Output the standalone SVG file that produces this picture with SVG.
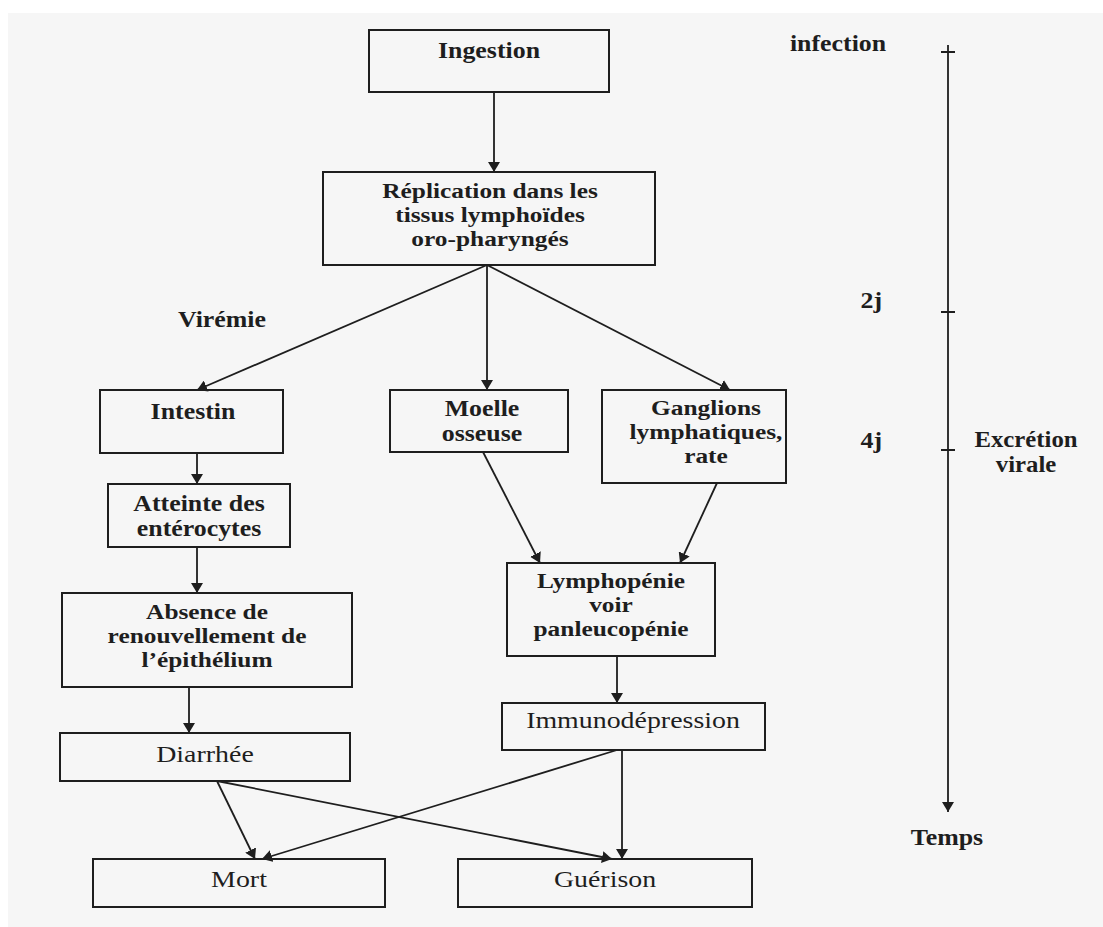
<svg xmlns="http://www.w3.org/2000/svg" width="1103" height="927" viewBox="0 0 1103 927">
<defs>
<style>
.box{fill:none;stroke:#1e1e1e;stroke-width:2}
.ln{fill:none;stroke:#1e1e1e;stroke-width:1.8}
.arr{marker-end:url(#ah)}
text{font-family:"Liberation Serif","Times New Roman",serif;font-size:22.5px;fill:#1e1e1e;text-anchor:middle}
.b{font-weight:bold}
.r{font-weight:normal}
.s{font-size:21.5px}
</style>
<marker id="ah" viewBox="0 0 10 12" refX="10" refY="6" markerWidth="10" markerHeight="12" markerUnits="userSpaceOnUse" orient="auto">
<path d="M0,0 L10,6 L0,12 z" fill="#1e1e1e"/>
</marker>
</defs>
<rect x="0" y="0" width="1103" height="927" fill="#ffffff"/>
<rect x="8" y="13" width="1095" height="914" fill="#f6f6f6"/>

<g id="connectors">
<path class="ln arr" d="M494,92 V172"/>
<path class="ln arr" d="M487,265 L197,390"/>
<path class="ln arr" d="M487,265 V390"/>
<path class="ln arr" d="M487,265 L730,390"/>
<path class="ln arr" d="M197,453 V484"/>
<path class="ln arr" d="M197,547 V593"/>
<path class="ln arr" d="M189,687 V733"/>
<path class="ln arr" d="M483,452 L540,563"/>
<path class="ln arr" d="M717,483 L680,563"/>
<path class="ln arr" d="M617,656 V703"/>
<path class="ln arr" d="M622,750 V859"/>
<path class="ln arr" d="M617,750 L262,859"/>
<path class="ln arr" d="M217,781 L255,859"/>
<path class="ln arr" d="M217,781 L612,859"/>
</g>

<g id="timeline">
<path class="ln arr" d="M948,45 V812"/>
<path class="ln" d="M941,52 H955 M941,312 H955 M941,450 H955"/>
<text class="b" transform="translate(838,51) scale(1.15,1)">infection</text>
<text class="b" transform="translate(882,308) scale(1.15,1)" style="text-anchor:end">2j</text>
<text class="b" transform="translate(882,448) scale(1.15,1)" style="text-anchor:end">4j</text>
<text class="b" transform="translate(1026,447) scale(1.1,1)"><tspan x="0" y="0">Excrétion</tspan><tspan x="0" y="25">virale</tspan></text>
<text class="b" transform="translate(947,845) scale(1.15,1)">Temps</text>
</g>

<g id="ingestion">
<rect class="box" x="369" y="30" width="240" height="62"/>
<text class="b" transform="translate(489,58) scale(1.15,1)">Ingestion</text>
</g>

<g id="replication">
<rect class="box" x="323" y="172" width="332" height="93"/>
<text class="b s" transform="translate(490,198) scale(1.18,1)"><tspan x="0" y="0">Réplication dans les</tspan><tspan x="0" y="24">tissus lymphoïdes</tspan><tspan x="0" y="48">oro-pharyngés</tspan></text>
</g>

<g id="viremie">
<text class="b" transform="translate(222,327) scale(1.15,1)">Virémie</text>
</g>

<g id="intestin">
<rect class="box" x="100" y="390" width="183" height="63"/>
<text class="b" transform="translate(193,419) scale(1.15,1)">Intestin</text>
</g>

<g id="moelle">
<rect class="box" x="390" y="390" width="178" height="62"/>
<text class="b" transform="translate(482,416) scale(1.15,1)"><tspan x="0" y="0">Moelle</tspan><tspan x="0" y="25">osseuse</tspan></text>
</g>

<g id="ganglions">
<rect class="box" x="602" y="390" width="184" height="93"/>
<text class="b s" transform="translate(706,415) scale(1.18,1)"><tspan x="0" y="0">Ganglions</tspan><tspan x="0" y="24">lymphatiques,</tspan><tspan x="0" y="48">rate</tspan></text>
</g>

<g id="atteinte">
<rect class="box" x="108" y="484" width="182" height="63"/>
<text class="b" transform="translate(199,511) scale(1.15,1)"><tspan x="0" y="0">Atteinte des</tspan><tspan x="0" y="25">entérocytes</tspan></text>
</g>

<g id="absence">
<rect class="box" x="62" y="593" width="290" height="94"/>
<text class="b s" transform="translate(207,619) scale(1.18,1)"><tspan x="0" y="0">Absence de</tspan><tspan x="0" y="24">renouvellement de</tspan><tspan x="0" y="48">l’épithélium</tspan></text>
</g>

<g id="lymphopenie">
<rect class="box" x="507" y="563" width="208" height="93"/>
<text class="b s" transform="translate(611,588) scale(1.18,1)"><tspan x="0" y="0">Lymphopénie</tspan><tspan x="0" y="24">voir</tspan><tspan x="0" y="48">panleucopénie</tspan></text>
</g>

<g id="immuno">
<rect class="box" x="502" y="703" width="263" height="47"/>
<text class="r" transform="translate(633,728) scale(1.24,1)">Immunodépression</text>
</g>

<g id="diarrhee">
<rect class="box" x="60" y="733" width="290" height="48"/>
<text class="r" transform="translate(205,762) scale(1.24,1)">Diarrhée</text>
</g>

<g id="mort">
<rect class="box" x="93" y="859" width="292" height="48"/>
<text class="r" transform="translate(239,887) scale(1.24,1)">Mort</text>
</g>

<g id="guerison">
<rect class="box" x="458" y="859" width="294" height="48"/>
<text class="r" transform="translate(605,887) scale(1.24,1)">Guérison</text>
</g>
</svg>
